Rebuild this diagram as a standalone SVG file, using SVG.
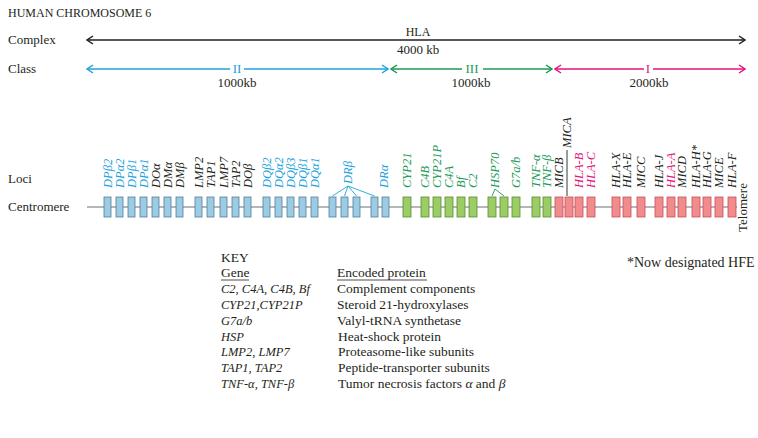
<svg xmlns="http://www.w3.org/2000/svg" width="758" height="438" viewBox="0 0 758 438">
<style>
text{font-family:"Liberation Serif","Times New Roman",serif;fill:#231f20}
.h{font-size:12px}
.m{font-size:13px}
.lab{font-size:12.5px;font-style:italic}
.k{font-size:13.5px}
.ki{font-size:12.5px;font-style:italic}
.n{font-size:14px}
.cb{fill:#1ea3dc}.cg{fill:#1b9a57}.cp{fill:#e3147c}
.bb{fill:#9dcbe3;stroke:#4f7f9c;stroke-width:0.8}
.bg{fill:#9ccc65;stroke:#5b8c32;stroke-width:0.8}
.bp{fill:#f28b8b;stroke:#c4505a;stroke-width:0.8}
.ln{fill:none;stroke-width:1.6}
</style>
<defs>
<marker id="ak" viewBox="0 0 10 10" refX="9" refY="5" markerWidth="10" markerHeight="10" markerUnits="userSpaceOnUse" orient="auto-start-reverse"><path d="M3,1 L9,5 L3,9" fill="none" stroke="#231f20" stroke-width="1.5"/></marker>
<marker id="ab" viewBox="0 0 10 10" refX="9" refY="5" markerWidth="10" markerHeight="10" markerUnits="userSpaceOnUse" orient="auto-start-reverse"><path d="M3,1 L9,5 L3,9" fill="none" stroke="#1ea3dc" stroke-width="1.5"/></marker>
<marker id="ag" viewBox="0 0 10 10" refX="9" refY="5" markerWidth="10" markerHeight="10" markerUnits="userSpaceOnUse" orient="auto-start-reverse"><path d="M3,1 L9,5 L3,9" fill="none" stroke="#1b9a57" stroke-width="1.5"/></marker>
<marker id="ap" viewBox="0 0 10 10" refX="9" refY="5" markerWidth="10" markerHeight="10" markerUnits="userSpaceOnUse" orient="auto-start-reverse"><path d="M3,1 L9,5 L3,9" fill="none" stroke="#e3147c" stroke-width="1.5"/></marker>
</defs>

<g id="headings">
<text class="h" x="8" y="17">HUMAN CHROMOSOME 6</text>
<text class="m" x="8" y="44">Complex</text>
<text class="m" x="8" y="73">Class</text>
<text class="m" x="8" y="183">Loci</text>
<text class="m" x="8" y="211">Centromere</text>
<text class="m" transform="translate(747,232) rotate(-90)">Telomere</text>
</g>

<g id="connectors">
<line x1="87" y1="40" x2="745" y2="40" class="ln" stroke="#231f20" marker-start="url(#ak)" marker-end="url(#ak)"/>
<line x1="87" y1="69" x2="230" y2="69" class="ln" stroke="#1ea3dc" marker-start="url(#ab)"/>
<line x1="244" y1="69" x2="388" y2="69" class="ln" stroke="#1ea3dc" marker-end="url(#ab)"/>
<line x1="391" y1="69" x2="462" y2="69" class="ln" stroke="#1b9a57" marker-start="url(#ag)"/>
<line x1="483" y1="69" x2="552" y2="69" class="ln" stroke="#1b9a57" marker-end="url(#ag)"/>
<line x1="555" y1="69" x2="644" y2="69" class="ln" stroke="#e3147c" marker-start="url(#ap)"/>
<line x1="653" y1="69" x2="745" y2="69" class="ln" stroke="#e3147c" marker-end="url(#ap)"/>
<line x1="87" y1="207" x2="737" y2="207" stroke="#6d6e71" stroke-width="1.2"/>
<g stroke="#1ea3dc" stroke-width="0.9">
<line x1="348" y1="186" x2="332.5" y2="196"/>
<line x1="348" y1="186" x2="344.5" y2="196"/>
<line x1="348" y1="186" x2="356.5" y2="196"/>
<line x1="348" y1="186" x2="374.5" y2="196"/>
</g>
<g stroke="#1b9a57" stroke-width="0.9" fill="none">
<polyline points="492,196 495,189 504,196"/>
</g>
<line x1="567" y1="150" x2="567" y2="196" stroke="#231f20" stroke-width="0.9"/>
</g>

<g id="class-labels">
<text class="h" x="418" y="36" text-anchor="middle">HLA</text>
<text class="m" x="418" y="54" text-anchor="middle">4000 kb</text>
<text class="m cb" x="237" y="73" text-anchor="middle">II</text>
<text class="m" x="237" y="87" text-anchor="middle">1000kb</text>
<text class="m cg" x="472" y="73" text-anchor="middle">III</text>
<text class="m" x="471" y="87" text-anchor="middle">1000kb</text>
<text class="m cp" x="648" y="73" text-anchor="middle">I</text>
<text class="m" x="649" y="87" text-anchor="middle">2000kb</text>
</g>

<g id="loci-boxes">
<g class="bb">
<rect x="104" y="197" width="7" height="20"/><rect x="116" y="197" width="7" height="20"/><rect x="128" y="197" width="7" height="20"/><rect x="140" y="197" width="7" height="20"/><rect x="152" y="197" width="7" height="20"/><rect x="164" y="197" width="7" height="20"/><rect x="176" y="197" width="7" height="20"/>
<rect x="195" y="197" width="7" height="20"/><rect x="207" y="197" width="7" height="20"/><rect x="220" y="197" width="7" height="20"/><rect x="232" y="197" width="7" height="20"/><rect x="244" y="197" width="7" height="20"/>
<rect x="263" y="197" width="7" height="20"/><rect x="275" y="197" width="7" height="20"/><rect x="287" y="197" width="7" height="20"/><rect x="299" y="197" width="7" height="20"/><rect x="311" y="197" width="7" height="20"/>
<rect x="329" y="197" width="7" height="20"/><rect x="341" y="197" width="7" height="20"/><rect x="353" y="197" width="7" height="20"/><rect x="371" y="197" width="7" height="20"/><rect x="382" y="197" width="7" height="20"/>
</g>
<g class="bg">
<rect x="403" y="197" width="8" height="20"/><rect x="421" y="197" width="8" height="20"/><rect x="433" y="197" width="8" height="20"/><rect x="445" y="197" width="8" height="20"/><rect x="457" y="197" width="8" height="20"/><rect x="469" y="197" width="8" height="20"/>
<rect x="488" y="197" width="8" height="20"/><rect x="500" y="197" width="8" height="20"/><rect x="512" y="197" width="8" height="20"/><rect x="532" y="197" width="8" height="20"/><rect x="543" y="197" width="8" height="20"/>
</g>
<g class="bp">
<rect x="555" y="197" width="8" height="20"/><rect x="565" y="197" width="8" height="20"/><rect x="575" y="197" width="8" height="20"/><rect x="587" y="197" width="8" height="20"/>
<rect x="612" y="197" width="8" height="20"/><rect x="623" y="197" width="8" height="20"/><rect x="637" y="197" width="8" height="20"/>
<rect x="655" y="197" width="8" height="20"/><rect x="667" y="197" width="8" height="20"/><rect x="678" y="197" width="8" height="20"/><rect x="692" y="197" width="8" height="20"/><rect x="703" y="197" width="8" height="20"/><rect x="715" y="197" width="8" height="20"/><rect x="728" y="197" width="8" height="20"/>
</g>
</g>

<g id="loci-labels">
<text class="lab cb" transform="translate(112,188) rotate(-90)">DPβ2</text>
<text class="lab cb" transform="translate(124,188) rotate(-90)">DPα2</text>
<text class="lab cb" transform="translate(136,188) rotate(-90)">DPβ1</text>
<text class="lab cb" transform="translate(148,188) rotate(-90)">DPα1</text>
<text class="lab" transform="translate(160,188) rotate(-90)">DOα</text>
<text class="lab" transform="translate(172,188) rotate(-90)">DMα</text>
<text class="lab" transform="translate(184,188) rotate(-90)">DMβ</text>
<text class="lab" transform="translate(203,188) rotate(-90)">LMP2</text>
<text class="lab" transform="translate(215,188) rotate(-90)">TAP1</text>
<text class="lab" transform="translate(228,188) rotate(-90)">LMP7</text>
<text class="lab" transform="translate(240,188) rotate(-90)">TAP2</text>
<text class="lab" transform="translate(252,188) rotate(-90)">DOβ</text>
<text class="lab cb" transform="translate(271,188) rotate(-90)">DQβ2</text>
<text class="lab cb" transform="translate(283,188) rotate(-90)">DQα2</text>
<text class="lab cb" transform="translate(295,188) rotate(-90)">DQβ3</text>
<text class="lab cb" transform="translate(307,188) rotate(-90)">DQβ1</text>
<text class="lab cb" transform="translate(319,188) rotate(-90)">DQα1</text>
<text class="lab cb" transform="translate(352,184) rotate(-90)">DRβ</text>
<text class="lab cb" transform="translate(388,188) rotate(-90)">DRα</text>
<text class="lab cg" transform="translate(411,188) rotate(-90)">CYP21</text>
<text class="lab cg" transform="translate(429,188) rotate(-90)">C4B</text>
<text class="lab cg" transform="translate(441,188) rotate(-90)">CYP21P</text>
<text class="lab cg" transform="translate(453,188) rotate(-90)">C4A</text>
<text class="lab cg" transform="translate(465,188) rotate(-90)">Bf</text>
<text class="lab cg" transform="translate(477,188) rotate(-90)">C2</text>
<text class="lab cg" transform="translate(499,188) rotate(-90)">HSP70</text>
<text class="lab cg" transform="translate(520,188) rotate(-90)">G7a/b</text>
<text class="lab cg" transform="translate(540,188) rotate(-90)">TNF-α</text>
<text class="lab cg" transform="translate(551,188) rotate(-90)">TNF-β</text>
<text class="lab" transform="translate(563,188) rotate(-90)">MICB</text>
<text class="lab" transform="translate(571,148) rotate(-90)">MICA</text>
<text class="lab cp" transform="translate(583,188) rotate(-90)">HLA-B</text>
<text class="lab cp" transform="translate(595,188) rotate(-90)">HLA-C</text>
<text class="lab" transform="translate(620,188) rotate(-90)">HLA-X</text>
<text class="lab" transform="translate(631,188) rotate(-90)">HLA-E</text>
<text class="lab" transform="translate(645,188) rotate(-90)">MICC</text>
<text class="lab" transform="translate(663,188) rotate(-90)">HLA-J</text>
<text class="lab cp" transform="translate(675,188) rotate(-90)">HLA-A</text>
<text class="lab" transform="translate(686,188) rotate(-90)">MICD</text>
<text class="lab" transform="translate(700,188) rotate(-90)">HLA-H*</text>
<text class="lab" transform="translate(711,188) rotate(-90)">HLA-G</text>
<text class="lab" transform="translate(723,188) rotate(-90)">MICE</text>
<text class="lab" transform="translate(736,188) rotate(-90)">HLA-F</text>
</g>

<g id="key">
<text class="k" x="221" y="262">KEY</text>
<text class="k" x="221" y="277">Gene</text>
<line x1="221" y1="280" x2="249" y2="280" stroke="#231f20" stroke-width="0.8"/>
<text class="k" x="337" y="277">Encoded protein</text>
<line x1="337" y1="280" x2="427" y2="280" stroke="#231f20" stroke-width="0.8"/>
<text class="ki" x="221" y="293">C2, C4A, C4B, Bf</text>
<text class="k" x="337" y="293">Complement components</text>
<text class="ki" x="221" y="309">CYP21,CYP21P</text>
<text class="k" x="337" y="309">Steroid 21-hydroxylases</text>
<text class="ki" x="221" y="325">G7a/b</text>
<text class="k" x="337" y="325">Valyl-tRNA synthetase</text>
<text class="ki" x="221" y="341">HSP</text>
<text class="k" x="338" y="341">Heat-shock protein</text>
<text class="ki" x="221" y="356">LMP2, LMP7</text>
<text class="k" x="338" y="356">Proteasome-like subunits</text>
<text class="ki" x="221" y="372">TAP1, TAP2</text>
<text class="k" x="338" y="372">Peptide-transporter subunits</text>
<text class="ki" x="221" y="388">TNF-α, TNF-β</text>
<text class="k" x="338" y="388">Tumor necrosis factors <tspan font-style="italic">α</tspan> and <tspan font-style="italic">β</tspan></text>
</g>

<g id="note">
<text class="n" x="627" y="267">*Now designated HFE</text>
</g>
</svg>
